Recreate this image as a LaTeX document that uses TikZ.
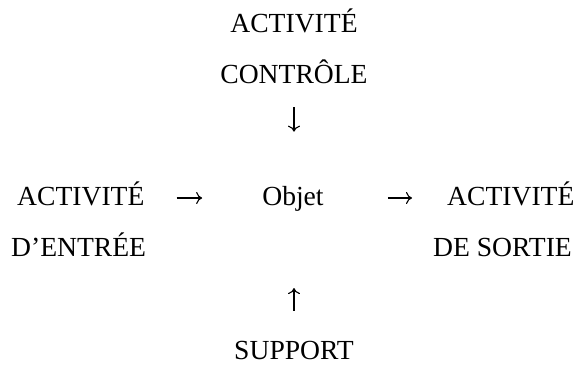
\documentclass[tikz,border=0pt]{standalone}
\usepackage{fontspec}
\setmainfont{Liberation Serif}
\usetikzlibrary{arrows.meta}
\begin{document}
\begin{tikzpicture}[x=1pt,y=-1pt,
  lbl/.style={inner sep=0pt,font=\fontsize{27.6}{32}\selectfont},
  conn/.style={line width=1.1pt,-{Computer Modern Rightarrow[length=6pt,width=12pt]}}]
\useasboundingbox (0,0) rectangle (581,368);
% labels, placed by baseline
\node[lbl,anchor=base] (act) at (294,32) {ACTIVITÉ};
\node[lbl,anchor=base] (ctl) at (294,83) {CONTRÔLE};
\node[lbl,anchor=base west] (ae) at (17,205) {ACTIVITÉ};
\node[lbl,anchor=base west] (ent) at (11,256) {D’ENTRÉE};
\node[lbl,anchor=base] (obj) at (293,205) {Objet};
\node[lbl,anchor=base west] (as) at (447,205) {ACTIVITÉ};
\node[lbl,anchor=base west] (sor) at (433,256) {DE SORTIE};
\node[lbl,anchor=base] (sup) at (294,359) {SUPPORT};
% connectors
\draw[conn,shorten <=32pt,shorten >=60pt]
  ([yshift=7pt]ae.base east) -- ([yshift=7pt]obj.base west);
\draw[conn,shorten <=64pt,shorten >=35pt]
  ([yshift=7pt]obj.base east) -- ([yshift=7pt]as.base west);
\draw[conn,shorten <=24pt,shorten >=54pt]
  (ctl.south) -- (ctl.south |- obj.north);
\draw[conn,shorten <=30pt,shorten >=77pt]
  (sup.north) -- (sup.north |- obj.south);
\end{tikzpicture}
\end{document}
